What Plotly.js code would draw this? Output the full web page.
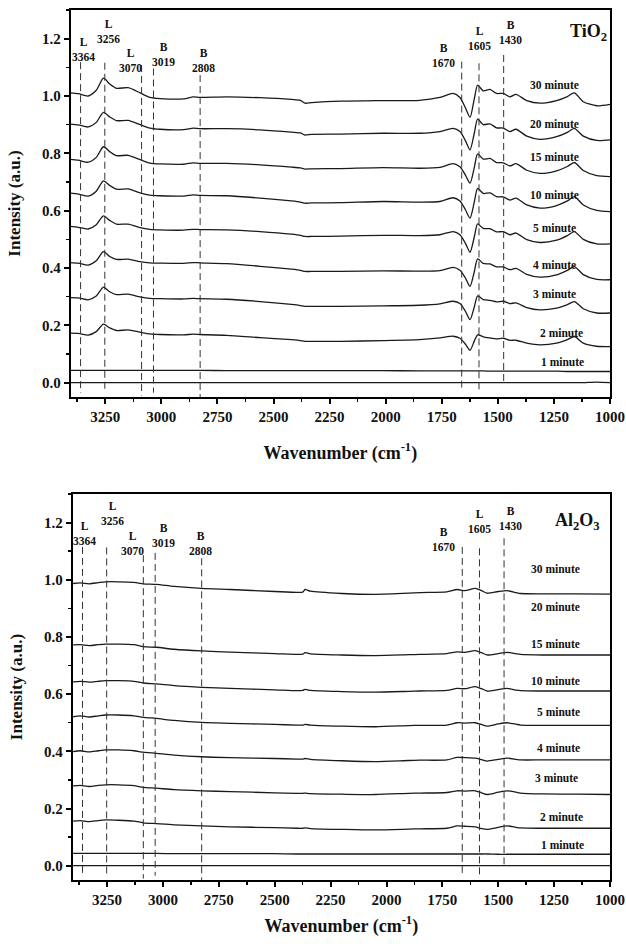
<!DOCTYPE html>
<html>
<head>
<meta charset="utf-8">
<script src="https://cdn.plot.ly/plotly-3.0.1.min.js"></script>
<style>html,body{margin:0;padding:0;background:#fff;}#chart{width:626px;height:946px;}</style>
</head>
<body>
<div id="chart"></div>
<script>
// ---------------- DATA ----------------
const minuteLabels = ['30 minute','20 minute','15 minute','10 minute','5 minute','4 minute','3 minute','2 minute','1 minute'];

// TiO2 panel
const waveTi = [3407,3370,3326,3290,3258,3230,3200,3148,3095,3051,3006,2900,2858,2828,2709,2560,2420,2380,2360,2330,2200,2011,1850,1758,1699,1669,1645,1624,1605,1590,1565,1535,1506,1476,1446,1419,1371,1312,1238,1190,1159,1119,1059,1000];
const ti30 = [1.011,1.008,1.000,1.020,1.062,1.042,1.027,1.029,1.011,0.995,0.991,0.990,0.997,0.995,0.997,0.994,0.988,0.985,0.975,0.977,0.982,0.984,0.985,0.995,1.009,0.995,0.960,0.926,0.990,1.038,1.018,1.023,1.009,1.009,0.997,1.006,0.984,0.975,0.984,0.998,1.011,0.980,0.966,0.971];
const ti20 = [0.902,0.899,0.892,0.908,0.943,0.927,0.914,0.915,0.900,0.888,0.884,0.883,0.888,0.886,0.886,0.882,0.874,0.871,0.864,0.866,0.867,0.870,0.870,0.876,0.887,0.876,0.845,0.812,0.870,0.919,0.900,0.903,0.889,0.888,0.876,0.884,0.860,0.849,0.858,0.873,0.887,0.860,0.845,0.847];
const ti15 = [0.779,0.776,0.769,0.786,0.823,0.806,0.792,0.793,0.778,0.766,0.763,0.762,0.767,0.765,0.765,0.760,0.752,0.749,0.745,0.746,0.747,0.750,0.748,0.751,0.764,0.753,0.725,0.696,0.750,0.798,0.780,0.782,0.768,0.767,0.756,0.764,0.741,0.730,0.739,0.754,0.768,0.740,0.722,0.719];
const ti10 = [0.661,0.658,0.651,0.668,0.704,0.688,0.675,0.676,0.662,0.654,0.652,0.651,0.655,0.653,0.652,0.644,0.634,0.630,0.626,0.627,0.628,0.632,0.630,0.632,0.645,0.634,0.604,0.574,0.630,0.678,0.660,0.662,0.649,0.648,0.637,0.644,0.620,0.609,0.618,0.634,0.649,0.620,0.601,0.597];
const ti5  = [0.545,0.542,0.536,0.551,0.582,0.566,0.553,0.553,0.541,0.535,0.533,0.532,0.535,0.534,0.533,0.527,0.518,0.514,0.510,0.510,0.511,0.514,0.513,0.516,0.527,0.516,0.487,0.455,0.508,0.554,0.538,0.537,0.526,0.527,0.516,0.522,0.499,0.489,0.497,0.513,0.527,0.500,0.484,0.484];
const ti4  = [0.419,0.417,0.410,0.425,0.457,0.440,0.430,0.431,0.422,0.418,0.417,0.416,0.419,0.418,0.415,0.406,0.396,0.392,0.388,0.388,0.388,0.390,0.389,0.391,0.402,0.392,0.366,0.336,0.387,0.432,0.416,0.414,0.404,0.404,0.394,0.399,0.378,0.368,0.376,0.392,0.405,0.377,0.360,0.359];
const ti3  = [0.297,0.296,0.289,0.302,0.333,0.317,0.307,0.309,0.299,0.294,0.293,0.292,0.294,0.293,0.291,0.283,0.273,0.269,0.266,0.266,0.266,0.268,0.270,0.275,0.284,0.276,0.250,0.220,0.264,0.303,0.290,0.287,0.282,0.284,0.276,0.278,0.262,0.254,0.260,0.272,0.283,0.258,0.243,0.243];
const ti2  = [0.173,0.172,0.166,0.178,0.204,0.191,0.182,0.184,0.176,0.170,0.168,0.167,0.169,0.168,0.165,0.157,0.150,0.147,0.144,0.144,0.144,0.147,0.150,0.156,0.162,0.155,0.135,0.113,0.145,0.167,0.160,0.156,0.153,0.155,0.148,0.148,0.138,0.132,0.138,0.150,0.161,0.138,0.127,0.126];
const ti1  = [0.043,0.043,0.043,0.043,0.043,0.043,0.043,0.043,0.043,0.043,0.043,0.043,0.043,0.043,0.042,0.042,0.042,0.042,0.042,0.042,0.042,0.042,0.041,0.041,0.041,0.041,0.041,0.041,0.041,0.041,0.041,0.040,0.040,0.040,0.040,0.040,0.040,0.040,0.040,0.039,0.039,0.039,0.039,0.039];
const tiBg = [0,0,0,0,0,0,0,0,0,0,0,0,0,0,0,0,0,0,0,0,0,0,0,0,0,0,0,0,0,0,0,0,0,0,0,0,0,0,0,0,0,0,0.002,0];

// Al2O3 panel
const waveAl = [3402,3370,3330,3290,3256,3200,3130,3088,3030,2950,2826,2700,2500,2400,2375,2364,2340,2200,2050,1900,1850,1730,1684,1650,1603,1575,1550,1500,1460,1420,1401,1300,1150,1000];
const al30 = [0.987,0.989,0.986,0.990,0.993,0.993,0.991,0.986,0.984,0.977,0.970,0.966,0.959,0.956,0.957,0.966,0.960,0.952,0.949,0.953,0.955,0.958,0.966,0.962,0.970,0.962,0.953,0.959,0.962,0.955,0.952,0.951,0.951,0.950];
const al15 = [0.772,0.773,0.770,0.773,0.775,0.775,0.773,0.766,0.764,0.757,0.751,0.747,0.742,0.739,0.740,0.745,0.741,0.737,0.735,0.738,0.739,0.742,0.748,0.746,0.752,0.745,0.737,0.742,0.746,0.741,0.739,0.737,0.737,0.737];
const al10 = [0.643,0.645,0.642,0.645,0.647,0.647,0.645,0.639,0.636,0.630,0.624,0.620,0.615,0.612,0.613,0.617,0.613,0.609,0.607,0.610,0.611,0.613,0.620,0.619,0.626,0.619,0.611,0.616,0.620,0.614,0.612,0.611,0.611,0.611];
const al5  = [0.521,0.524,0.520,0.524,0.527,0.527,0.524,0.519,0.515,0.508,0.501,0.498,0.494,0.492,0.492,0.494,0.492,0.488,0.486,0.490,0.491,0.492,0.500,0.499,0.500,0.494,0.488,0.496,0.500,0.495,0.492,0.491,0.491,0.491];
const al4  = [0.399,0.402,0.398,0.402,0.405,0.405,0.402,0.397,0.393,0.387,0.381,0.378,0.375,0.373,0.373,0.375,0.372,0.367,0.364,0.368,0.369,0.370,0.379,0.378,0.376,0.371,0.366,0.372,0.376,0.372,0.370,0.370,0.370,0.370];
const al3  = [0.279,0.281,0.277,0.281,0.283,0.283,0.280,0.274,0.271,0.266,0.262,0.259,0.255,0.253,0.253,0.254,0.252,0.250,0.249,0.253,0.254,0.256,0.262,0.261,0.262,0.255,0.249,0.257,0.262,0.257,0.254,0.251,0.250,0.249];
const al2  = [0.156,0.158,0.154,0.158,0.160,0.159,0.156,0.150,0.147,0.143,0.139,0.136,0.133,0.131,0.131,0.132,0.130,0.127,0.125,0.128,0.129,0.131,0.139,0.138,0.136,0.130,0.127,0.134,0.139,0.134,0.132,0.131,0.131,0.131];
const al1  = [0.043,0.043,0.043,0.043,0.043,0.043,0.043,0.043,0.043,0.042,0.042,0.042,0.042,0.041,0.041,0.041,0.041,0.041,0.041,0.041,0.041,0.041,0.041,0.041,0.041,0.041,0.041,0.040,0.040,0.040,0.040,0.040,0.040,0.040];
const alBg = [0,0,0,0,0,0,0,0,0,0,0,0,0,0,0,0,0,0,0,0,0,0,0,0,0,0,0,0,0,0,0,0,0,0];

// Reference band markers
const bandType   = ['L','L','L','B','B','B','L','B'];
const bandLabel  = ['3364','3256','3070','3019','2808','1670','1605','1430'];
const bandPos    = [3360,3252,3088,3035,2827,1661,1584,1474];
const bandTopTi  = [1.118,1.116,1.108,1.096,1.073,1.120,1.114,1.143];
const bandTopAl  = [1.115,1.113,1.086,1.094,1.075,1.115,1.110,1.145];
const bandBottom = [-0.035,-0.035,-0.045,-0.035,-0.06,-0.03,-0.035,0.0];

const xTicks = [3250,3000,2750,2500,2250,2000,1750,1500,1250,1000];

// ---------------- BUILD ----------------
const W = 626, H = 946;
const FONT = 'Liberation Serif, Times New Roman, serif';
const lineStyle = {color:'#1a1a1a', width:1.3, shape:'spline', smoothing:0.7};
const dashStyle = {color:'#333', width:1, dash:'7px,4px'};

const traces = [];
function addCurves(xs, ys, names, xa, ya){
  ys.forEach((y,i)=>traces.push({x:xs,y:y,type:'scatter',mode:'lines',line:lineStyle,name:names[i],xaxis:xa,yaxis:ya,showlegend:false,hoverinfo:'skip'}));
}
addCurves(waveTi,[ti30,ti20,ti15,ti10,ti5,ti4,ti3,ti2,ti1,tiBg],
  ['30 minute','20 minute','15 minute','10 minute','5 minute','4 minute','3 minute','2 minute','1 minute','background'],'x','y');
addCurves(waveAl,[al30,al15,al10,al5,al4,al3,al2,al1,alBg],
  ['30 minute','15 minute','10 minute','5 minute','4 minute','3 minute','2 minute','1 minute','background'],'x2','y2');

bandPos.forEach((p,i)=>{
  traces.push({x:[p,p],y:[bandTopTi[i],bandBottom[i]],type:'scatter',mode:'lines',line:dashStyle,xaxis:'x',yaxis:'y',showlegend:false,hoverinfo:'skip'});
  traces.push({x:[p,p],y:[bandTopAl[i],bandBottom[i]],type:'scatter',mode:'lines',line:dashStyle,xaxis:'x2',yaxis:'y2',showlegend:false,hoverinfo:'skip'});
});

function P(px,py){return {x:px/W, y:1-py/H};}
const ann = [];
function label(text, px, py, size, xanchor){
  const p = P(px,py);
  ann.push({text:text, x:p.x, y:p.y, xref:'paper', yref:'paper', showarrow:false,
    xanchor:xanchor||'center', yanchor:'middle',
    font:{family:FONT, size:size, color:'#111', weight:'bold'}});
}
// band labels: pixel centres
const bandXTi = [83,108,130,163,203,443,479,510];
const bandYTi = [49.5,31,60,55,60,55.5,38.5,33];
const bandXAl = [85,112.7,132.3,163.3,200.5,443.3,479,510.7];
const bandYAl = [533.7,513.7,543.7,535,543.7,539.7,521.7,518];
bandType.forEach((t,i)=>{
  label(t+'<br>'+bandLabel[i], bandXTi[i], bandYTi[i], 11.5);
  label(t+'<br>'+bandLabel[i], bandXAl[i], bandYAl[i], 11.5);
});
label('TiO<sub>2</sub>', 588, 33, 18);
label('Al<sub>2</sub>O<sub>3</sub>', 577, 521, 18);

const minXTi = [554,554,554,554,554,554,554,561,562];
const minYTi = [85,124,157,195,228,265,294,333,362];
const minXAl = [555,555,555,555,558,558,556,561,562];
const minYAl = [569,607.3,644,681,712.3,748.3,777.7,816.7,845];
minuteLabels.forEach((m,i)=>{
  label(m, minXTi[i], minYTi[i], 11.5);
  label(m, minXAl[i], minYAl[i], 11.5);
});

function xaxisDef(domain, anchor, standoff){
  return {domain:domain, anchor:anchor, range:[3404,1000], tickvals:xTicks, ticktext:xTicks.map(String),
    showgrid:false, zeroline:false, showline:true, linecolor:'#000', linewidth:2, mirror:true,
    ticks:'outside', ticklen:5, tickwidth:2, tickcolor:'#000',
    minor:{dtick:125, tick0:1000, ticks:'outside', ticklen:3, tickwidth:1.5, tickcolor:'#000', showgrid:false},
    tickfont:{family:FONT, size:15, color:'#111', weight:'bold'},
    title:{text:'Wavenumber (cm<sup>-1</sup>)', standoff:standoff, font:{family:FONT, size:18, color:'#111', weight:'bold'}}};
}
function yaxisDef(domain, anchor){
  return {domain:domain, anchor:anchor, range:[-0.05,1.3], tickvals:[0,0.2,0.4,0.6,0.8,1.0,1.2],
    ticktext:['0.0','0.2','0.4','0.6','0.8','1.0','1.2'],
    showgrid:false, zeroline:false, showline:true, linecolor:'#000', linewidth:2, mirror:true,
    ticks:'outside', ticklen:5, tickwidth:2, tickcolor:'#000',
    minor:{dtick:0.1, tick0:0, ticks:'outside', ticklen:3, tickwidth:1.5, tickcolor:'#000', showgrid:false},
    tickfont:{family:FONT, size:15, color:'#111', weight:'bold'},
    title:{text:'Intensity (a.u.)', standoff:17, font:{family:FONT, size:17, color:'#111', weight:'bold'}}};
}

const layout = {
  width:W, height:H, margin:{l:0,r:0,t:0,b:0}, paper_bgcolor:'#fff', plot_bgcolor:'#fff',
  showlegend:false,
  xaxis: xaxisDef([70.7/W, 610/W], 'y', 22),
  yaxis: yaxisDef([1-397/H, 1-10/H], 'x'),
  xaxis2: xaxisDef([72.7/W, 610/W], 'y2', 12),
  yaxis2: yaxisDef([1-880/H, 1-494/H], 'x2'),
  annotations: ann
};

Plotly.newPlot('chart', traces, layout, {staticPlot:true, displayModeBar:false});
</script>
</body>
</html>
